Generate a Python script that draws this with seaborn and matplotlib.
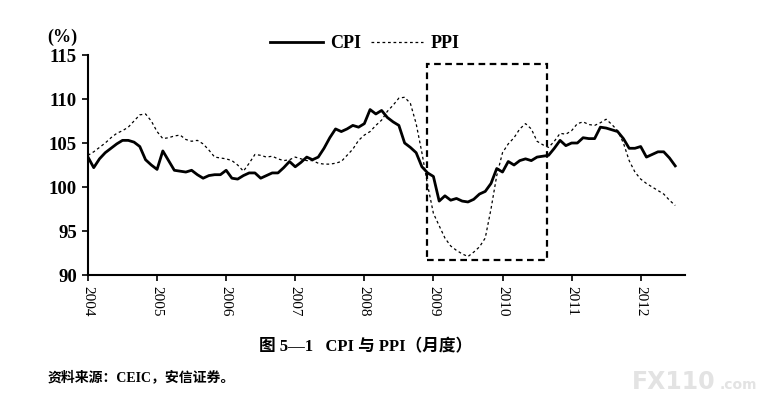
import numpy as np
import pandas as pd
import matplotlib
matplotlib.use("Agg")
import matplotlib.pyplot as plt
import seaborn as sb
from matplotlib.patches import Rectangle
from matplotlib.lines import Line2D

# monthly data, Jan 2004 .. Jul 2012 (same month last year = 100)
cpi = [103.4, 102.2, 103.2, 103.9, 104.4, 104.9, 105.3, 105.3, 105.1, 104.6, 103.1, 102.5,
       102.0, 104.1, 103.0, 101.9, 101.8, 101.7, 101.9, 101.4, 101.0, 101.3, 101.4, 101.4,
       101.9, 101.0, 100.9, 101.3, 101.6, 101.6, 101.0, 101.3, 101.6, 101.6, 102.2, 102.9,
       102.3, 102.8, 103.4, 103.1, 103.4, 104.4, 105.6, 106.6, 106.3, 106.6, 107.0, 106.8,
       107.2, 108.8, 108.3, 108.7, 107.9, 107.4, 107.0, 105.0, 104.5, 103.9, 102.3, 101.6,
       101.2, 98.4, 99.0, 98.5, 98.7, 98.4, 98.3, 98.6, 99.2, 99.5, 100.4, 102.1,
       101.7, 102.9, 102.5, 103.0, 103.2, 103.0, 103.4, 103.5, 103.6, 104.4, 105.3, 104.7,
       105.0, 105.0, 105.6, 105.5, 105.5, 106.8, 106.7, 106.5, 106.3, 105.5, 104.4, 104.4,
       104.6, 103.4, 103.7, 104.0, 104.0, 103.3, 102.4]
ppi = [103.6, 104.0, 104.5, 105.0, 105.6, 106.1, 106.4, 106.8, 107.5, 108.2, 108.3, 107.5,
       106.3, 105.5, 105.6, 105.8, 105.9, 105.4, 105.2, 105.3, 104.9, 104.2, 103.4, 103.3,
       103.2, 103.0, 102.5, 101.8, 102.7, 103.7, 103.6, 103.4, 103.5, 103.2, 103.0, 103.1,
       103.4, 103.2, 103.0, 103.0, 102.7, 102.6, 102.6, 102.7, 102.9, 103.6, 104.3, 105.3,
       105.9, 106.3, 107.0, 107.6, 108.6, 109.3, 110.1, 110.2, 109.5, 107.2, 103.9, 100.2,
       97.0, 95.6, 94.2, 93.3, 92.8, 92.4, 92.1, 92.6, 93.2, 94.2, 97.5, 101.3,
       103.9, 104.9, 105.6, 106.6, 107.2, 106.6, 105.2, 104.8, 104.5, 105.2, 106.1, 106.0,
       106.4, 107.2, 107.4, 107.1, 107.0, 107.3, 107.7, 107.1, 106.4, 105.0, 103.0, 101.7,
       100.9, 100.4, 100.0, 99.6, 99.2, 98.5, 97.9]
years = list(range(2004, 2013))
yticks = [90, 95, 100, 105, 110, 115]
box_x = (2008.9, 2010.65)   # highlighted period
box_y = (91.7, 114.0)

t = 2004 + np.arange(len(cpi)) / 12.0
df = pd.DataFrame({"t": t, "CPI": cpi, "PPI": ppi})

serif = ["Liberation Serif", "Noto Sans CJK SC"]
plt.rcParams["font.family"] = serif

fig = plt.figure(figsize=(7.61, 4.03), dpi=100)
ax = fig.add_axes([0.1156, 0.3176, 0.7844, 0.5459])

ppi_dash = (0, (2.2, 2.2))
sb.lineplot(data=df, x="t", y="CPI", ax=ax, color="black", linewidth=2.0)
sb.lineplot(data=df, x="t", y="PPI", ax=ax, color="black", linewidth=0.9, linestyle=ppi_dash)

ax.add_patch(Rectangle((box_x[0], box_y[0]), box_x[1] - box_x[0], box_y[1] - box_y[0],
                       fill=False, edgecolor="black", linewidth=1.6, linestyle=(0, (3, 2))))

ax.set_xlim(2004, 2012.64)
ax.set_ylim(90, 115)
ax.set_xticks(years)
ax.set_xticklabels([str(y) for y in years], rotation=270, fontsize=11)
ax.set_yticks(yticks)
ax.set_yticklabels([str(v) for v in yticks], fontsize=13.5, fontweight="bold")
ax.tick_params(axis="both", direction="out", length=4, width=1.2, pad=4)
ax.set_xlabel("")
ax.set_ylabel("")
for s in ["top", "right"]:
    ax.spines[s].set_visible(False)
ax.spines["left"].set_linewidth(1.5)
ax.spines["bottom"].set_linewidth(1.5)

handles = [Line2D([], [], color="black", linewidth=2.0),
           Line2D([], [], color="black", linewidth=0.9, linestyle=ppi_dash)]
ax.legend(handles, ["CPI", "PPI"], loc="lower center", bbox_to_anchor=(0.464, 0.955),
          ncol=2, frameon=False, handlelength=2.9, handletextpad=0.4, columnspacing=0.55,
          borderpad=0.2, prop={"family": serif, "weight": "bold", "size": 13})

fig.text(0.062, 0.895, "(%)", fontsize=13, fontweight="bold", family=serif)
fig.text(0.48, 0.128, "图 5—1   CPI 与 PPI（月度）", fontsize=12, fontweight="bold",
         family=serif, ha="center")
fig.text(0.062, 0.055, "资料来源：CEIC，安信证券。", fontsize=10, fontweight="bold", family=serif)
fig.text(0.83, 0.035, "FX110", fontsize=17, fontweight="bold", color="#e3e3e3",
         family=["DejaVu Sans"], ha="left")
fig.text(0.945, 0.035, ".com", fontsize=10, fontweight="bold", color="#e3e3e3",
         family=["DejaVu Sans"], ha="left")

plt.savefig("out.png", dpi=100)
